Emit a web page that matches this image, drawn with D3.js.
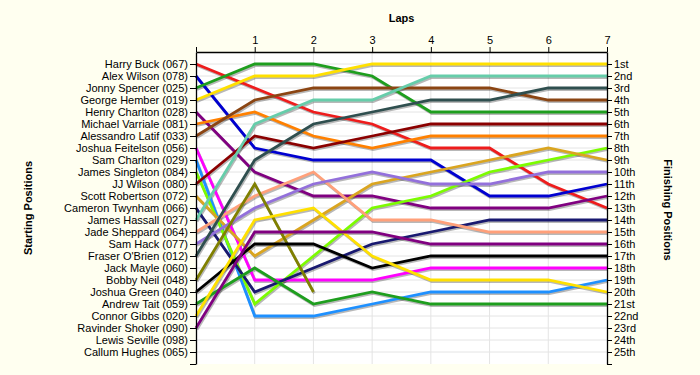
<!DOCTYPE html>
<html>
<head>
<meta charset="utf-8">
<script src="https://cdn.jsdelivr.net/npm/d3@7"></script>
<style>
  body { margin: 0; background: #fffff0; }
  svg { display: block; font-family: "Liberation Sans", Arial, sans-serif; }
  .axis text { font-size: 11px; fill: #000; }
  .axis path, .axis line { stroke: #000; }
  .grid line { stroke: #e4e4e4; }
  .title { font-size: 11px; font-weight: bold; }
</style>
</head>
<body>
<script>
const w = 700;
const h = 375;

const drivers = [
  "Harry Buck", "Alex Wilson", "Jonny Spencer", "George Hember", "Henry Charlton",
  "Michael Varriale", "Alessandro Latif", "Joshua Feitelson", "Sam Charlton", "James Singleton",
  "JJ Wilson", "Scott Robertson", "Cameron Twynham", "James Hassall", "Jade Sheppard",
  "Sam Hack", "Fraser O'Brien", "Jack Mayle", "Bobby Neil", "Joshua Green",
  "Andrew Tait", "Connor Gibbs", "Ravinder Shoker", "Lewis Seville", "Callum Hughes"
];
const numbers = [
  "067", "078", "025", "019", "028", "081", "033", "056", "029", "084",
  "080", "072", "066", "027", "064", "077", "012", "060", "048", "040",
  "059", "020", "090", "098", "065"
];

const laps = [0, 1, 2, 3, 4, 5, 6, 7];

// position at start, then after each lap (null = not running)
const positions = [
  [1, 3, 5, 6, 8, 8, 11, 13],
  [2, 8, 9, 9, 9, 12, 12, 11],
  [3, 1, 1, 2, 5, 5, 5, 5],
  [4, 2, 2, 1, 1, 1, 1, 1],
  [5, 10, 12, 12, 13, 13, 13, 12],
  [6, 5, 7, 8, 7, 7, 7, 7],
  [7, 4, 3, 3, 3, 3, 4, 4],
  [8, 19, 19, 19, 18, 18, 18, 18],
  [9, 22, 22, 21, 20, 20, 20, 19],
  [10, 21, 17, 13, 12, 10, 9, 8],
  [11, 7, 8, 7, 6, 6, 6, 6],
  [12, 17, 14, 11, 10, 9, 8, 9],
  [13, 20, 18, 16, 15, 14, 14, 14],
  [14, 6, 4, 4, 2, 2, 2, 2],
  [15, 12, 10, 14, 14, 15, 15, 15],
  [16, 13, 11, 10, 11, 11, 10, 10],
  [17, 9, 6, 5, 4, 4, 3, 3],
  [null, null, null, null, null, null, null, null],
  [19, 11, 20, null, null, null, null, null],
  [20, 16, 16, 18, 17, 17, 17, 17],
  [21, 18, 21, 20, 21, 21, 21, 21],
  [22, 14, 13, 17, 19, 19, 19, 20],
  [23, 15, 15, 15, 16, 16, 16, 16],
  [null, null, null, null, null, null, null, null],
  [null, null, null, null, null, null, null, null]
];

const finishLabels = [
  "1st", "2nd", "3rd", "4th", "5th", "6th", "7th", "8th", "9th", "10th",
  "11th", "12th", "13th", "14th", "15th", "16th", "17th", "18th", "19th", "20th",
  "21st", "22nd", "23rd", "24th", "25th"
];

const colors = [
  "#ee1c1c", "#0000d0", "#1e9e1e", "#ffe000", "#800080",
  "#ff8000", "#8b4513", "#ff00ff", "#1e90ff", "#7cfc00",
  "#8b0000", "#daa520", "#191970", "#66cdaa", "#ffa07a",
  "#9370db", "#2f4f4f", "#888888", "#808000", "#000000",
  "#1e9e1e", "#ffe000", "#800080", "#888888", "#888888"
];

const svg = d3.select('body').append('svg').attr('width', w).attr('height', h);

const x = d3.scaleLinear().domain([0, 7]).range([196, 607]);
const y = d3.scaleLinear().domain([0, 26]).range([52, 364]);

const rows = d3.range(1, 26);

// plot background
svg.append('rect')
  .attr('x', x(0)).attr('y', y(0))
  .attr('width', x(7) - x(0)).attr('height', y(26) - y(0))
  .attr('fill', '#fff');

// grid
svg.append('g').attr('class', 'grid')
  .selectAll('line').data(rows).join('line')
  .attr('x1', x(0)).attr('x2', x(7))
  .attr('y1', d => y(d)).attr('y2', d => y(d));

svg.append('g').attr('class', 'grid')
  .selectAll('line').data(laps.slice(1, 7)).join('line')
  .attr('x1', d => x(d)).attr('x2', d => x(d))
  .attr('y1', y(0)).attr('y2', y(26));

// lines
const line = d3.line()
  .defined(d => d != null)
  .x((d, i) => x(laps[i]))
  .y(d => y(d));

const runners = positions.map((p, i) => ({ p, c: colors[i] })).filter(r => r.p.some(v => v != null));

svg.append('g').attr('transform', 'translate(1,1.5)')
  .selectAll('path').data(runners).join('path')
  .attr('d', d => line(d.p))
  .attr('fill', 'none')
  .attr('stroke', '#000')
  .attr('stroke-opacity', 0.28)
  .attr('stroke-width', 2.8);

svg.append('g')
  .selectAll('path').data(runners).join('path')
  .attr('d', d => line(d.p))
  .attr('fill', 'none')
  .attr('stroke', d => d.c)
  .attr('stroke-width', 2.8);

// axes
svg.append('g')
  .attr('class', 'axis')
  .attr('transform', 'translate(0,' + y(0) + ')')
  .call(d3.axisTop(x).tickValues(laps).tickSize(5).tickSizeOuter(0).tickPadding(3)
    .tickFormat(d => d === 0 ? '' : d));

svg.append('g')
  .attr('class', 'axis')
  .attr('transform', 'translate(' + x(0) + ',0)')
  .call(d3.axisLeft(y).tickValues(d3.range(1, 27)).tickSize(6).tickSizeOuter(0).tickPadding(2)
    .tickFormat(d => d <= 25 ? drivers[d - 1] + ' (' + numbers[d - 1] + ')' : ''));

svg.append('g')
  .attr('class', 'axis')
  .attr('transform', 'translate(' + x(7) + ',0)')
  .call(d3.axisRight(y).tickValues(d3.range(1, 27)).tickSize(5).tickSizeOuter(0).tickPadding(2)
    .tickFormat(d => d <= 25 ? finishLabels[d - 1] : ''));

svg.selectAll('.axis .domain').attr('stroke-width', 1.3);

// titles
svg.append('text').attr('class', 'title')
  .attr('x', (x(0) + x(7)) / 2).attr('y', 22)
  .attr('text-anchor', 'middle')
  .text('Laps');

svg.append('text').attr('class', 'title')
  .attr('transform', 'translate(32,' + 208 + ') rotate(-90)')
  .attr('text-anchor', 'middle')
  .text('Starting Positions');

svg.append('text').attr('class', 'title')
  .attr('transform', 'translate(664,' + 210 + ') rotate(90)')
  .attr('text-anchor', 'middle')
  .text('Finishing Positions');
</script>
</body>
</html>
